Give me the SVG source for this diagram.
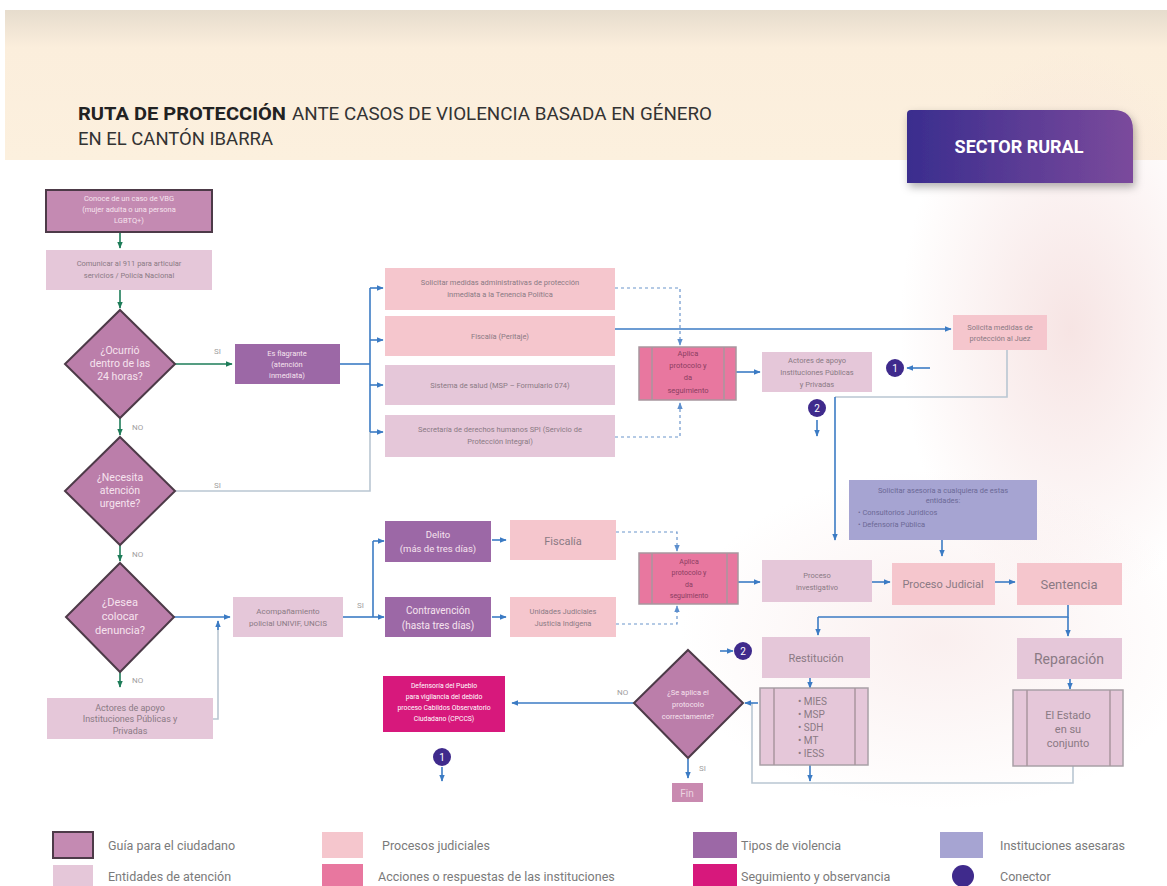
<svg xmlns="http://www.w3.org/2000/svg" width="1167" height="886" viewBox="0 0 1167 886">
<defs>
<style>
.t{font-family:Roboto,"Liberation Sans",sans-serif}
.g{fill:#c48ab2;stroke:#4d3a48;stroke-width:2}
.dm{fill:#bb7eaa;stroke:#4d3a48;stroke-width:2}
.e{fill:#e5c7d9}
.p{fill:#f5c6cd}
.a{fill:#e8779f;stroke:#a8969e;stroke-width:1.5}
.v{fill:#9c68a6}
.i{fill:#a6a4d2}
.s{fill:#d7187c}
.c{fill:#3f2a8c}
.sep{stroke:#a8969e;stroke-width:1.5}
.lb{stroke:#3b7bc4;stroke-width:1.6;fill:none}
.lg{stroke:#1d7c58;stroke-width:1.6;fill:none}
.ld{stroke:#6b95cc;stroke-width:1.2;fill:none;stroke-dasharray:3 3}
.lx{stroke:#b9c6d2;stroke-width:1.6;fill:none}
.wt{fill:#f6e3ee}
.gt{fill:#8a7a84}
.dt{fill:#8a3e62}
.lt{fill:#a0a0a0;font-size:8px}
.lg2{font-size:12.5px;fill:#7a7a7a}
</style>
<linearGradient id="band" x1="0" y1="0" x2="0" y2="1">
<stop offset="0" stop-color="#e6dccd"/>
<stop offset="0.25" stop-color="#fbeedc"/>
<stop offset="1" stop-color="#fcf0de"/>
</linearGradient>
<linearGradient id="badge" x1="0" y1="0" x2="1" y2="0">
<stop offset="0" stop-color="#3a2d8e"/>
<stop offset="1" stop-color="#7b4a9c"/>
</linearGradient>
<radialGradient id="pk" cx="0.5" cy="0.5" r="0.5">
<stop offset="0" stop-color="#f3d9d8" stop-opacity="0.7"/>
<stop offset="1" stop-color="#f3d9d8" stop-opacity="0"/>
</radialGradient>
<filter id="sh" x="-20%" y="-20%" width="140%" height="160%">
<feDropShadow dx="2" dy="4" stdDeviation="4" flood-color="#000" flood-opacity="0.3"/>
</filter>
<marker id="ab" viewBox="0 0 10 10" refX="9" refY="5" markerWidth="7" markerHeight="7" markerUnits="userSpaceOnUse" orient="auto"><path d="M0,1 L10,5 L0,9 z" fill="#3b7bc4"/></marker>
<marker id="ag" viewBox="0 0 10 10" refX="9" refY="5" markerWidth="7" markerHeight="7" markerUnits="userSpaceOnUse" orient="auto"><path d="M0,1 L10,5 L0,9 z" fill="#1d7c58"/></marker>
<marker id="ad" viewBox="0 0 10 10" refX="9" refY="5" markerWidth="7" markerHeight="7" markerUnits="userSpaceOnUse" orient="auto"><path d="M0,1 L10,5 L0,9 z" fill="#5c8fce"/></marker>
<marker id="ax" viewBox="0 0 10 10" refX="9" refY="5" markerWidth="7" markerHeight="7" markerUnits="userSpaceOnUse" orient="auto"><path d="M0,1 L10,5 L0,9 z" fill="#3b7bc4"/></marker>
</defs>

<rect x="0" y="0" width="1167" height="886" fill="#ffffff"/>
<rect x="5" y="10" width="1162" height="150" fill="url(#band)"/>
<ellipse cx="1070" cy="330" rx="170" ry="280" fill="url(#pk)"/>
<ellipse cx="940" cy="640" rx="260" ry="170" fill="url(#pk)" opacity="0.6"/>

<g id="title" class="t">
<text x="78" y="120" font-size="19" font-weight="bold" fill="#222" textLength="208" lengthAdjust="spacingAndGlyphs">RUTA DE PROTECCIÓN</text>
<text x="292" y="120" font-size="19" fill="#333" textLength="420" lengthAdjust="spacingAndGlyphs">ANTE CASOS DE VIOLENCIA BASADA EN GÉNERO</text>
<text x="78" y="145" font-size="19" fill="#333" textLength="195" lengthAdjust="spacingAndGlyphs">EN EL CANTÓN IBARRA</text>
</g>

<g id="badge">
<path d="M907,114 Q907,110 911,110 L1113,110 Q1133,110 1133,130 L1133,183 L907,183 Z" fill="url(#badge)" filter="url(#sh)"/>
<text class="t" x="1019" y="153" font-size="18" font-weight="bold" fill="#ffffff" text-anchor="middle">SECTOR RURAL</text>
</g>

<g id="connectors">
<line class="lg" x1="120" y1="232" x2="120" y2="248" marker-end="url(#ag)"/>
<line class="lg" x1="120" y1="290" x2="120" y2="308" marker-end="url(#ag)"/>
<line class="lg" x1="175" y1="364" x2="232" y2="364" marker-end="url(#ag)"/>
<line class="lg" x1="120" y1="418" x2="120" y2="435" marker-end="url(#ag)"/>
<line class="lg" x1="120" y1="545" x2="120" y2="561" marker-end="url(#ag)"/>
<line class="lg" x1="120" y1="672" x2="120" y2="687" marker-end="url(#ag)"/>
<polyline class="lx" points="175,491 370,491 370,432"/>
<line class="lb" x1="340" y1="364" x2="370" y2="364"/>
<line class="lb" x1="370" y1="288" x2="370" y2="432"/>
<line class="lb" x1="370" y1="288" x2="383" y2="288" marker-end="url(#ab)"/>
<line class="lb" x1="370" y1="340" x2="383" y2="340" marker-end="url(#ab)"/>
<line class="lb" x1="370" y1="385" x2="383" y2="385" marker-end="url(#ab)"/>
<line class="lb" x1="370" y1="432" x2="383" y2="432" marker-end="url(#ab)"/>
<polyline class="ld" points="615,288 680,288 680,345" marker-end="url(#ad)"/>
<polyline class="ld" points="615,437 680,437 680,403" marker-end="url(#ad)"/>
<line class="lb" x1="615" y1="329" x2="951" y2="329" marker-end="url(#ab)"/>
<line class="lb" x1="736" y1="372" x2="760" y2="372" marker-end="url(#ab)"/>
<line class="lb" x1="930" y1="368" x2="907" y2="368" marker-end="url(#ab)"/>
<line class="lb" x1="817" y1="420" x2="817" y2="436" marker-end="url(#ab)"/>
<polyline class="lx" points="1007,350 1007,397 835,397"/>
<line class="lb" x1="835" y1="397" x2="835" y2="540" marker-end="url(#ab)"/>
<line class="lb" x1="942" y1="540" x2="942" y2="556" marker-end="url(#ab)"/>
<line class="lb" x1="738" y1="582" x2="760" y2="582" marker-end="url(#ab)"/>
<line class="lb" x1="872" y1="582" x2="890" y2="582" marker-end="url(#ab)"/>
<line class="lb" x1="995" y1="582" x2="1015" y2="582" marker-end="url(#ab)"/>
<polyline class="lb" points="1068,605 1068,617 818,617" stroke-width="2"/>
<line class="lb" x1="818" y1="617" x2="818" y2="635" stroke-width="2" marker-end="url(#ab)"/>
<line class="lb" x1="1068" y1="617" x2="1068" y2="636" stroke-width="2" marker-end="url(#ab)"/>
<line class="lb" x1="810" y1="678" x2="810" y2="688" marker-end="url(#ab)"/>
<line class="lb" x1="1070" y1="679" x2="1070" y2="689" marker-end="url(#ab)"/>
<polyline class="lx" points="1073,766 1073,783 752,783 752,703"/>
<line class="lb" x1="758" y1="703" x2="745" y2="703" marker-end="url(#ab)"/>
<line class="lb" x1="810" y1="765" x2="810" y2="781" marker-end="url(#ab)"/>
<line class="lb" x1="634" y1="703" x2="512" y2="703" marker-end="url(#ab)"/>
<line class="lb" x1="688" y1="759" x2="688" y2="778" marker-end="url(#ab)"/>
<line class="lb" x1="720" y1="651" x2="733" y2="651" marker-end="url(#ab)"/>
<line class="lb" x1="442" y1="767" x2="442" y2="781" marker-end="url(#ab)"/>
<line class="lb" x1="174" y1="617" x2="230" y2="617" marker-end="url(#ab)"/>
<polyline class="lx" points="213,719 218,719 218,624"/>
<line class="lb" x1="218" y1="630" x2="218" y2="621" marker-end="url(#ab)"/>
<line class="lb" x1="343" y1="617" x2="373" y2="617"/>
<line class="lb" x1="373" y1="541" x2="373" y2="617"/>
<line class="lb" x1="373" y1="541" x2="384" y2="541" marker-end="url(#ab)"/>
<line class="lb" x1="373" y1="617" x2="384" y2="617" marker-end="url(#ab)"/>
<line class="lb" x1="492" y1="540" x2="506" y2="540" marker-end="url(#ab)"/>
<line class="lb" x1="492" y1="617" x2="506" y2="617" marker-end="url(#ab)"/>
<polyline class="ld" points="616,532 677,532 677,551" marker-end="url(#ad)"/>
<polyline class="ld" points="616,624 677,624 677,606" marker-end="url(#ad)"/>
<g class="t">
<text class="lt" x="214" y="354">SI</text>
<text class="lt" x="132" y="430">NO</text>
<text class="lt" x="214" y="488">SI</text>
<text class="lt" x="132" y="557">NO</text>
<text class="lt" x="132" y="683">NO</text>
<text class="lt" x="357" y="608">SI</text>
<text class="lt" x="617" y="695">NO</text>
<text class="lt" x="699" y="771">SI</text>
</g>
</g>

<g id="n-conoce" class="t">
<rect class="g" x="46" y="190" width="166" height="42"/>
<text class="wt" font-size="7.5" text-anchor="middle"><tspan x="129" y="201">Conoce de un caso de VBG</tspan><tspan x="129" y="212">(mujer adulta o una persona</tspan><tspan x="129" y="223">LGBTQ+)</tspan></text>
</g>
<g id="n-comunicar" class="t">
<rect class="e" x="46" y="250" width="166" height="40"/>
<text class="gt" font-size="7.5" text-anchor="middle"><tspan x="129" y="266">Comunicar al 911 para articular</tspan><tspan x="129" y="278">servicios / Policía Nacional</tspan></text>
</g>
<g id="d-24h" class="t">
<polygon class="dm" points="120,310 175,364 120,418 65,364"/>
<text class="wt" font-size="10.5" text-anchor="middle"><tspan x="120" y="354">¿Ocurrió</tspan><tspan x="120" y="367">dentro de las</tspan><tspan x="120" y="380">24 horas?</tspan></text>
</g>
<g id="n-flagrante" class="t">
<rect class="v" x="235" y="344" width="105" height="40"/>
<text class="wt" font-size="7.5" text-anchor="middle"><tspan x="287" y="356">Es flagrante</tspan><tspan x="287" y="367">(atención</tspan><tspan x="287" y="378">inmediata)</tspan></text>
</g>
<g id="d-urgente" class="t">
<polygon class="dm" points="120,437 175,491 120,545 65,491"/>
<text class="wt" font-size="10.5" text-anchor="middle"><tspan x="120" y="481">¿Necesita</tspan><tspan x="120" y="494">atención</tspan><tspan x="120" y="507">urgente?</tspan></text>
</g>
<g id="d-denuncia" class="t">
<polygon class="dm" points="120,563 174,617 120,672 66,617"/>
<text class="wt" font-size="11" text-anchor="middle"><tspan x="120" y="606">¿Desea</tspan><tspan x="120" y="620">colocar</tspan><tspan x="120" y="634">denuncia?</tspan></text>
</g>
<g id="n-actores-left" class="t">
<rect class="e" x="47" y="698" width="166" height="41"/>
<text class="gt" font-size="9" text-anchor="middle"><tspan x="130" y="711">Actores de apoyo</tspan><tspan x="130" y="722">Instituciones Públicas y</tspan><tspan x="130" y="734">Privadas</tspan></text>
</g>
<g id="n-acompanamiento" class="t">
<rect class="e" x="233" y="597" width="110" height="40"/>
<text class="gt" font-size="8" text-anchor="middle"><tspan x="288" y="614">Acompañamiento</tspan><tspan x="288" y="626">policial UNIVIF, UNCIS</tspan></text>
</g>
<g id="n-solicitar" class="t">
<rect class="p" x="385" y="268" width="230" height="42"/>
<text class="gt" font-size="7.5" text-anchor="middle"><tspan x="500" y="285">Solicitar medidas administrativas de protección</tspan><tspan x="500" y="297">inmediata a la Tenencia Política</tspan></text>
</g>
<g id="n-fiscalia-peritaje" class="t">
<rect class="p" x="385" y="316" width="230" height="40"/>
<text class="gt" font-size="7.5" text-anchor="middle" x="500" y="339">Fiscalía (Peritaje)</text>
</g>
<g id="n-salud" class="t">
<rect class="e" x="385" y="365" width="230" height="40"/>
<text class="gt" font-size="7.5" text-anchor="middle" x="500" y="388">Sistema de salud (MSP – Formulario 074)</text>
</g>
<g id="n-secretaria" class="t">
<rect class="e" x="385" y="415" width="230" height="42"/>
<text class="gt" font-size="7.5" text-anchor="middle"><tspan x="500" y="432">Secretaría de derechos humanos SPI (Servicio de</tspan><tspan x="500" y="444">Protección Integral)</tspan></text>
</g>
<g id="n-aplica1" class="t">
<rect class="a" x="639" y="347" width="97" height="53"/>
<line class="sep" x1="652" y1="347" x2="652" y2="400"/>
<line class="sep" x1="724" y1="347" x2="724" y2="400"/>
<text class="dt" font-size="7.5" text-anchor="middle"><tspan x="688" y="356">Aplica</tspan><tspan x="688" y="368">protocolo y</tspan><tspan x="688" y="380">da</tspan><tspan x="688" y="393">seguimiento</tspan></text>
</g>
<g id="n-actores-right" class="t">
<rect class="e" x="762" y="352" width="110" height="40"/>
<text class="gt" font-size="7.5" text-anchor="middle"><tspan x="817" y="363">Actores de apoyo</tspan><tspan x="817" y="375">Instituciones Públicas</tspan><tspan x="817" y="387">y Privadas</tspan></text>
</g>
<g id="n-juez" class="t">
<rect class="p" x="953" y="315" width="94" height="35"/>
<text class="gt" font-size="7.5" text-anchor="middle"><tspan x="1000" y="330">Solicita medidas de</tspan><tspan x="1000" y="341">protección al Juez</tspan></text>
</g>
<g id="c1-top" class="t">
<circle class="c" cx="895" cy="368" r="9"/>
<text x="895" y="372" font-size="10" fill="#fff" text-anchor="middle">1</text>
</g>
<g id="c2-top" class="t">
<circle class="c" cx="817" cy="408" r="9"/>
<text x="817" y="412" font-size="10" fill="#fff" text-anchor="middle">2</text>
</g>
<g id="n-asesoria" class="t">
<rect class="i" x="849" y="480" width="188" height="60"/>
<text fill="#6c6996" font-size="7.5"><tspan x="943" y="493" text-anchor="middle">Solicitar asesoría a cualquiera de estas</tspan><tspan x="943" y="503" text-anchor="middle">entidades:</tspan><tspan x="858" y="515">•  Consultorios Jurídicos</tspan><tspan x="858" y="527">•  Defensoría Pública</tspan></text>
</g>
<g id="n-delito" class="t">
<rect class="v" x="385" y="521" width="106" height="41"/>
<text class="wt" font-size="9.5" text-anchor="middle"><tspan x="438" y="538">Delito</tspan><tspan x="438" y="552">(más de tres días)</tspan></text>
</g>
<g id="n-contravencion" class="t">
<rect class="v" x="385" y="597" width="106" height="40"/>
<text class="wt" font-size="10" text-anchor="middle"><tspan x="438" y="614">Contravención</tspan><tspan x="438" y="629">(hasta tres días)</tspan></text>
</g>
<g id="n-fiscalia" class="t">
<rect class="p" x="510" y="520" width="106" height="40"/>
<text class="gt" font-size="11" text-anchor="middle" x="563" y="545">Fiscalía</text>
</g>
<g id="n-unidades" class="t">
<rect class="p" x="510" y="597" width="106" height="40"/>
<text class="gt" font-size="7.5" text-anchor="middle"><tspan x="563" y="614">Unidades Judiciales</tspan><tspan x="563" y="626">Justicia Indígena</tspan></text>
</g>
<g id="n-aplica2" class="t">
<rect class="a" x="639" y="553" width="99" height="51"/>
<line class="sep" x1="652" y1="553" x2="652" y2="604"/>
<line class="sep" x1="727" y1="553" x2="727" y2="604"/>
<text class="dt" font-size="7" text-anchor="middle"><tspan x="689" y="564">Aplica</tspan><tspan x="689" y="575">protocolo y</tspan><tspan x="689" y="587">da</tspan><tspan x="689" y="598">seguimiento</tspan></text>
</g>
<g id="n-investigativo" class="t">
<rect class="e" x="762" y="560" width="110" height="42"/>
<text class="gt" font-size="7.5" text-anchor="middle"><tspan x="817" y="578">Proceso</tspan><tspan x="817" y="590">investigativo</tspan></text>
</g>
<g id="n-judicial" class="t">
<rect class="p" x="892" y="563" width="103" height="42"/>
<text class="gt" font-size="11" text-anchor="middle" x="943" y="588">Proceso Judicial</text>
</g>
<g id="n-sentencia" class="t">
<rect class="p" x="1017" y="563" width="105" height="42"/>
<text class="gt" font-size="13" text-anchor="middle" x="1069" y="589">Sentencia</text>
</g>
<g id="n-restitucion" class="t">
<rect class="e" x="762" y="637" width="108" height="41"/>
<text class="gt" font-size="11" text-anchor="middle" x="816" y="662">Restitución</text>
</g>
<g id="n-reparacion" class="t">
<rect class="e" x="1017" y="638" width="105" height="41"/>
<text class="gt" font-size="14" text-anchor="middle" x="1069" y="664">Reparación</text>
</g>
<g id="n-lista" class="t">
<rect class="e" x="760" y="688" width="108" height="77" stroke="#a8a0a6" stroke-width="1.5"/>
<line class="sep" x1="774" y1="688" x2="774" y2="765"/>
<line class="sep" x1="855" y1="688" x2="855" y2="765"/>
<text class="gt" font-size="10"><tspan x="798" y="705">• MIES</tspan><tspan x="798" y="718">• MSP</tspan><tspan x="798" y="731">• SDH</tspan><tspan x="798" y="744">• MT</tspan><tspan x="798" y="757">• IESS</tspan></text>
</g>
<g id="n-estado" class="t">
<rect class="e" x="1013" y="690" width="110" height="76" stroke="#a8a0a6" stroke-width="1.5"/>
<line class="sep" x1="1027" y1="690" x2="1027" y2="766"/>
<line class="sep" x1="1110" y1="690" x2="1110" y2="766"/>
<text class="gt" font-size="11" text-anchor="middle"><tspan x="1068" y="719">El Estado</tspan><tspan x="1068" y="733">en su</tspan><tspan x="1068" y="747">conjunto</tspan></text>
</g>
<g id="c2-bottom" class="t">
<circle class="c" cx="743" cy="651" r="9"/>
<text x="743" y="655" font-size="10" fill="#fff" text-anchor="middle">2</text>
</g>
<g id="d-protocolo" class="t">
<polygon class="dm" points="688,650 743,703 688,758 634,703"/>
<text class="wt" font-size="7.5" text-anchor="middle"><tspan x="688" y="695">¿Se aplica el</tspan><tspan x="688" y="707">protocolo</tspan><tspan x="688" y="719">correctamente?</tspan></text>
</g>
<g id="n-defensoria" class="t">
<rect class="s" x="383" y="676" width="122" height="56"/>
<text fill="#ffffff" font-size="6.8" text-anchor="middle"><tspan x="444" y="688">Defensoría del Pueblo</tspan><tspan x="444" y="699">para vigilancia del debido</tspan><tspan x="444" y="710">proceso Cabildos Observatorio</tspan><tspan x="444" y="721">Ciudadano (CPCCS)</tspan></text>
</g>
<g id="c1-bottom" class="t">
<circle class="c" cx="442" cy="757" r="9"/>
<text x="442" y="761" font-size="10" fill="#fff" text-anchor="middle">1</text>
</g>
<g id="n-fin" class="t">
<rect x="672" y="783" width="31" height="19" fill="#c98ab0"/>
<text x="687" y="797" font-size="10" fill="#ecd3e0" text-anchor="middle">Fin</text>
</g>

<g id="legend" class="t">
<rect class="g" x="53" y="832" width="40" height="26"/>
<text class="lg2" x="108" y="850">Guía para el ciudadano</text>
<rect class="e" x="53" y="865" width="40" height="21"/>
<text class="lg2" x="108" y="881">Entidades de atención</text>
<rect class="p" x="322" y="832" width="41" height="26"/>
<text class="lg2" x="382" y="850">Procesos judiciales</text>
<rect x="322" y="864" width="41" height="22" fill="#e8779f"/>
<text class="lg2" x="378" y="881">Acciones o respuestas de las instituciones</text>
<rect class="v" x="693" y="832" width="44" height="26"/>
<text class="lg2" x="741" y="850">Tipos de violencia</text>
<rect class="s" x="693" y="864" width="44" height="22"/>
<text class="lg2" x="741" y="881">Seguimiento y observancia</text>
<rect class="i" x="940" y="832" width="43" height="26"/>
<text class="lg2" x="1000" y="850">Instituciones asesaras</text>
<circle class="c" cx="963" cy="876" r="11"/>
<text class="lg2" x="1000" y="881">Conector</text>
</g>
</svg>
